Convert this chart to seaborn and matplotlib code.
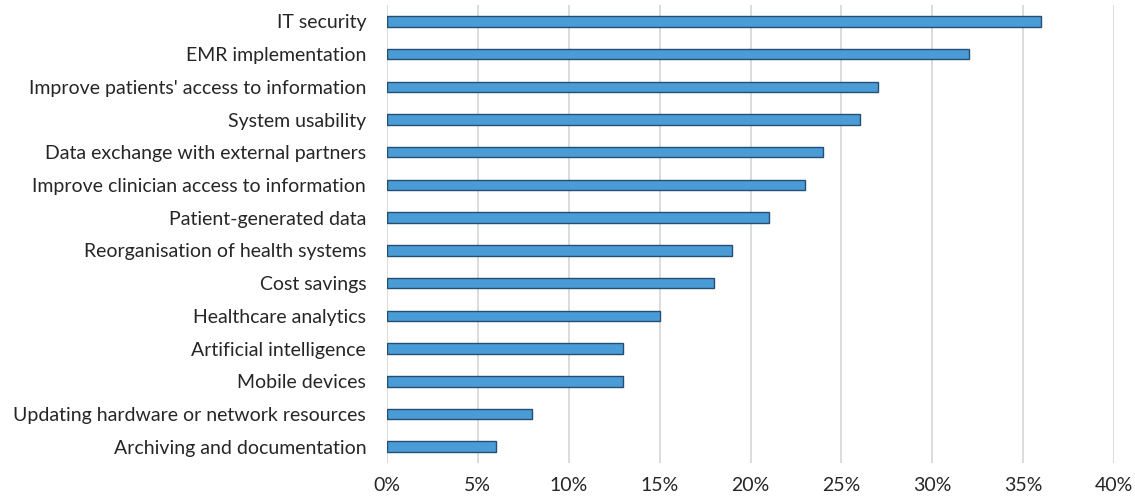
import matplotlib
matplotlib.use("Agg")
import matplotlib.pyplot as plt
import seaborn as sns
import pandas as pd

categories = [
    "IT security",
    "EMR implementation",
    "Improve patients' access to information",
    "System usability",
    "Data exchange with external partners",
    "Improve clinician access to information",
    "Patient-generated data",
    "Reorganisation of health systems",
    "Cost savings",
    "Healthcare analytics",
    "Artificial intelligence",
    "Mobile devices",
    "Updating hardware or network resources",
    "Archiving and documentation",
]
values = [36, 32, 27, 26, 24, 23, 21, 19, 18, 15, 13, 13, 8, 6]
x_ticks = [0, 5, 10, 15, 20, 25, 30, 35, 40]
x_tick_labels = ["0%", "5%", "10%", "15%", "20%", "25%", "30%", "35%", "40%"]

sns.set_theme(style="white")
plt.rcParams["font.family"] = ["Lato", "DejaVu Sans"]

df = pd.DataFrame({"category": categories, "value": values})

fig = plt.figure(figsize=(11.35, 4.99), dpi=100)
ax = fig.add_axes([0.341, 0.072, 0.6405, 0.918])

sns.barplot(data=df, y="category", x="value", order=categories,
            color="#4A9CD6", edgecolor="#264E72", linewidth=1.0,
            width=0.32, saturation=1, ax=ax)

ax.set_xlim(0, 40)
ax.set_ylim(len(categories) - 0.5, -0.5)
ax.set_xticks(x_ticks)
ax.set_xticklabels(x_tick_labels)
ax.xaxis.grid(True, color="#D9D9D9", linewidth=1.3)
ax.yaxis.grid(False)
ax.set_axisbelow(True)
for s in ax.spines.values():
    s.set_visible(False)
ax.set_xlabel("")
ax.set_ylabel("")
ax.tick_params(axis="both", length=0, labelsize=14, colors="#262626")
ax.tick_params(axis="x", pad=10)
ax.tick_params(axis="y", pad=15)

fig.savefig("out.png", dpi=100)
